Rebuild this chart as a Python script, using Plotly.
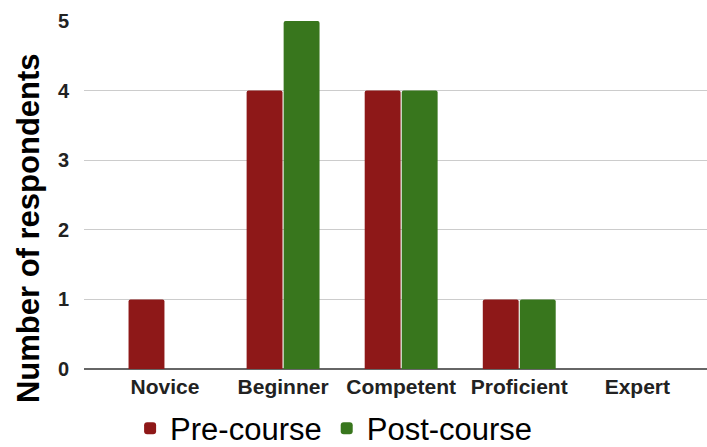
import plotly.graph_objects as go

categories = ["Novice", "Beginner", "Competent", "Proficient", "Expert"]
pre_course = [1, 4, 4, 1, 0]
post_course = [0, 5, 4, 1, 0]
y_ticks = [0, 1, 2, 3, 4, 5]

RED = "#8E1818"
GREEN = "#38761D"
FONT = "Liberation Sans, Arial, sans-serif"

fig = go.Figure()
fig.add_trace(go.Bar(x=list(range(len(categories))), y=pre_course, name="Pre-course",
                     marker=dict(color=RED, line=dict(width=0))))
fig.add_trace(go.Bar(x=list(range(len(categories))), y=post_course, name="Post-course",
                     marker=dict(color=GREEN, line=dict(width=0))))

# Y-axis title placed as an annotation so it is centred on the full chart height
fig.add_annotation(text="<b>Number of respondents</b>", textangle=-90,
                   xref="paper", yref="paper", x=-0.0899, y=0.405,
                   xanchor="center", yanchor="middle", showarrow=False,
                   font=dict(size=31, family=FONT, color="#000000"))

fig.update_layout(
    width=707, height=447,
    margin=dict(l=84, r=0, t=21, b=78, autoexpand=False),
    paper_bgcolor="white", plot_bgcolor="white",
    barmode="group", bargap=0.373, bargroupgap=0.03,
    barcornerradius=2,
    font=dict(family=FONT, color="#000000"),
    showlegend=True,
    legend=dict(orientation="h", x=0.074, xanchor="left", y=-0.094, yanchor="top",
                font=dict(size=31, family=FONT, color="#000000"),
                itemsizing="constant", traceorder="normal"),
    xaxis=dict(
        tickmode="array", tickvals=list(range(len(categories))), ticktext=categories,
        range=[-0.686, 4.59], showgrid=False, zeroline=False,
        tickfont=dict(size=21, family=FONT, color="#222222", weight="bold"),
        ticks="", showline=False, ticklabelstandoff=3,
    ),
    yaxis=dict(
        range=[0, 5], tickvals=y_ticks, showgrid=True, gridcolor="#CCCCCC", gridwidth=1,
        zeroline=True, zerolinecolor="#666666", zerolinewidth=1.5,
        tickfont=dict(size=20, family=FONT, color="#222222", weight="bold"),
        ticks="outside", ticklen=10, tickcolor="rgba(0,0,0,0)",
    ),
)

fig.write_html("out.html")
